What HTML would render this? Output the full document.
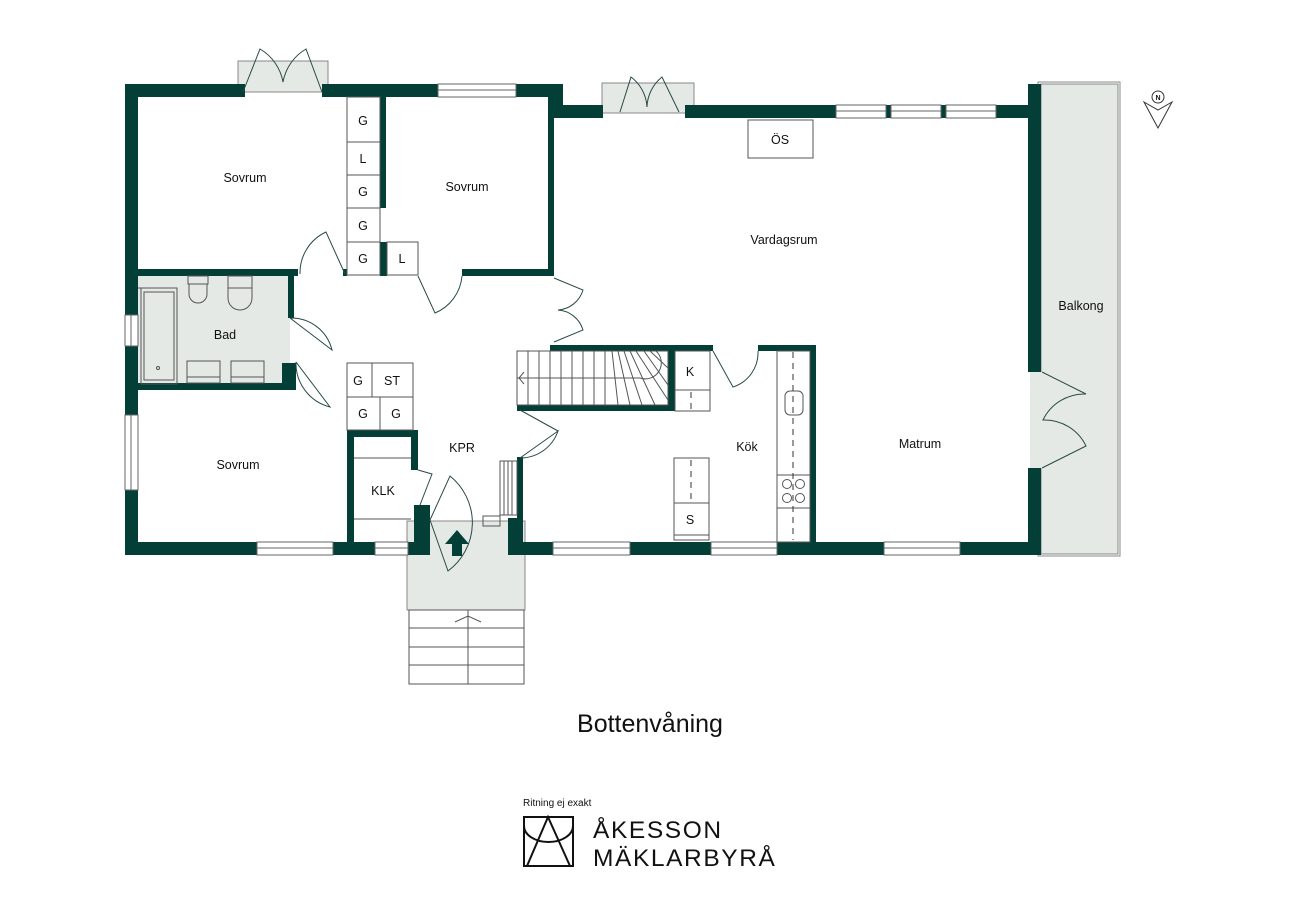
<!DOCTYPE html>
<html><head><meta charset="utf-8"><style>
html,body{margin:0;padding:0;background:#fff;}
svg{display:block;}
text{font-family:"Liberation Sans",Arial,sans-serif;fill:#111;}
</style></head><body>
<svg width="1300" height="919" viewBox="0 0 1300 919" xmlns="http://www.w3.org/2000/svg">
<defs>
<style>.w{fill:#033f37}.t{fill:none;stroke:#555;stroke-width:1}.d{fill:none;stroke:#2a4a45;stroke-width:1}.lf{fill:#e4e9e6}.win{fill:#fff;stroke:#666;stroke-width:1}</style>
</defs>
<!-- light fills -->
<rect class="lf" x="1041" y="84" width="77" height="470" stroke="#888" stroke-width="1"/>
<rect x="1038" y="82" width="82" height="474" fill="none" stroke="#888" stroke-width="1"/>
<rect class="lf" x="238" y="61" width="90" height="31" stroke="#888"/>
<rect class="lf" x="602" y="83" width="92" height="30" stroke="#888"/>
<rect class="lf" x="1030" y="372" width="12" height="96"/>
<rect class="lf" x="138" y="276" width="152" height="108"/>
<rect class="lf" x="407" y="521" width="118" height="89" stroke="#888"/>

<!-- outer walls -->
<rect class="w" x="125" y="84" width="120" height="13"/>
<rect class="w" x="322" y="84" width="116" height="13"/>
<rect class="w" x="516" y="84" width="47" height="13"/>
<rect class="w" x="550" y="84" width="13" height="34"/>
<rect class="w" x="553" y="105" width="50" height="13"/>
<rect class="w" x="685" y="105" width="151" height="13"/>
<rect class="w" x="886" y="105" width="5" height="13"/>
<rect class="w" x="941" y="105" width="5" height="13"/>
<rect class="w" x="996" y="105" width="34" height="13"/>
<rect class="w" x="1028" y="84" width="13" height="288"/>
<rect class="w" x="1028" y="468" width="13" height="87"/>
<rect class="w" x="125" y="84" width="13" height="231"/>
<rect class="w" x="125" y="346" width="13" height="69"/>
<rect class="w" x="125" y="490" width="13" height="65"/>
<rect class="w" x="125" y="542" width="132" height="13"/>
<rect class="w" x="333" y="542" width="42" height="13"/>
<rect class="w" x="408" y="542" width="22" height="13"/>
<rect class="w" x="508" y="542" width="45" height="13"/>
<rect class="w" x="630" y="542" width="81" height="13"/>
<rect class="w" x="777" y="542" width="107" height="13"/>
<rect class="w" x="960" y="542" width="81" height="13"/>
<!-- windows -->
<g class="win">
<rect x="438" y="84" width="78" height="13"/><line x1="438" y1="90" x2="516" y2="90"/>
<rect x="836" y="105" width="50" height="13"/><line x1="836" y1="111" x2="886" y2="111"/>
<rect x="891" y="105" width="50" height="13"/><line x1="891" y1="111" x2="941" y2="111"/>
<rect x="946" y="105" width="50" height="13"/><line x1="946" y1="111" x2="996" y2="111"/>
<rect x="125" y="315" width="13" height="31"/><line x1="131" y1="315" x2="131" y2="346"/>
<rect x="125" y="415" width="13" height="75"/><line x1="131" y1="415" x2="131" y2="490"/>
<rect x="257" y="542" width="76" height="13"/><line x1="257" y1="548" x2="333" y2="548"/>
<rect x="375" y="542" width="33" height="13"/><line x1="375" y1="548" x2="408" y2="548"/>
<rect x="553" y="542" width="77" height="13"/><line x1="553" y1="548" x2="630" y2="548"/>
<rect x="711" y="542" width="66" height="13"/><line x1="711" y1="548" x2="777" y2="548"/>
<rect x="884" y="542" width="76" height="13"/><line x1="884" y1="548" x2="960" y2="548"/>
</g>
<!-- interior walls -->
<rect class="w" x="138" y="269" width="160" height="7"/>
<rect class="w" x="343" y="269" width="4" height="7"/>
<rect class="w" x="380" y="97" width="6" height="111"/>
<rect class="w" x="380" y="242" width="7" height="34"/>
<rect class="w" x="462" y="269" width="91" height="7"/>
<rect class="w" x="548" y="97" width="6" height="179"/>
<rect class="w" x="288" y="276" width="6" height="42"/>
<rect class="w" x="282" y="363" width="14" height="27"/>
<rect class="w" x="138" y="383" width="158" height="7"/>
<rect class="w" x="347" y="430" width="7" height="115"/>
<rect class="w" x="347" y="430" width="71" height="7"/>
<rect class="w" x="411" y="430" width="7" height="40"/>
<rect class="w" x="414" y="505" width="16" height="40"/>
<rect class="w" x="508" y="518" width="14" height="30"/>
<rect class="w" x="517" y="457" width="6" height="98"/>
<rect class="w" x="550" y="345" width="163" height="6"/>
<rect class="w" x="517" y="405" width="158" height="6"/>
<rect class="w" x="668" y="349" width="7" height="62"/>
<rect class="w" x="758" y="345" width="58" height="6"/>
<rect class="w" x="810" y="345" width="6" height="200"/>

<!-- closets -->
<g class="t">
<rect x="347" y="97" width="33" height="178"/>
<line x1="347" y1="142" x2="380" y2="142"/><line x1="347" y1="175" x2="380" y2="175"/>
<line x1="347" y1="208" x2="380" y2="208"/><line x1="347" y1="242" x2="380" y2="242"/>
<rect x="387" y="242" width="31" height="33"/>
<rect x="347" y="363" width="66" height="67"/>
<line x1="347" y1="397" x2="413" y2="397"/><line x1="372" y1="363" x2="372" y2="397"/><line x1="380" y1="397" x2="380" y2="430"/>
<rect x="748" y="120" width="65" height="38"/>
<line x1="354" y1="458" x2="411" y2="458"/><line x1="354" y1="519" x2="411" y2="519"/>
<rect x="675" y="351" width="35" height="60"/><line x1="675" y1="390" x2="710" y2="390"/>
<rect x="674" y="458" width="35" height="82"/><line x1="674" y1="503" x2="709" y2="503"/><line x1="674" y1="535" x2="709" y2="535"/>
<rect x="777" y="351" width="33" height="191"/>
<rect x="777" y="475" width="33" height="33"/>
<rect x="785" y="391" width="18" height="24" rx="5"/>
<circle cx="787" cy="484" r="4.5"/><circle cx="800" cy="484" r="4.5"/><circle cx="787" cy="498" r="4.5"/><circle cx="800" cy="498" r="4.5"/>
<!-- bath -->
<rect x="141" y="288" width="36" height="96"/><rect x="144" y="292" width="30" height="88"/>
<line x1="138" y1="288" x2="177" y2="288"/>
<circle cx="158" cy="368" r="1.5"/>
<rect x="188" y="276" width="20" height="8"/><path d="M189 284 v10 a9 9 0 0 0 18 0 v-10"/>
<rect x="228" y="276" width="24" height="12"/><path d="M228 288 v10 a12 12 0 0 0 24 0 v-10"/>
<rect x="187" y="361" width="33" height="22"/><rect x="231" y="361" width="33" height="22"/>
<line x1="187" y1="377" x2="220" y2="377"/><line x1="231" y1="377" x2="264" y2="377"/>
<!-- stairs -->
<rect x="517" y="351" width="151" height="54"/>
<line x1="517" y1="378" x2="640" y2="378"/>
<line x1="528" y1="351" x2="528" y2="405"/><line x1="539" y1="351" x2="539" y2="405"/>
<line x1="550" y1="351" x2="550" y2="405"/><line x1="561" y1="351" x2="561" y2="405"/>
<line x1="572" y1="351" x2="572" y2="405"/><line x1="583" y1="351" x2="583" y2="405"/>
<line x1="594" y1="351" x2="594" y2="405"/><line x1="605" y1="351" x2="605" y2="405"/>
<line x1="612" y1="351" x2="618" y2="405"/><line x1="618" y1="351" x2="630" y2="405"/>
<line x1="624" y1="351" x2="642" y2="405"/><line x1="630" y1="351" x2="655" y2="405"/>
<line x1="636" y1="351" x2="668" y2="400"/><line x1="644" y1="351" x2="668" y2="385"/>
<line x1="650" y1="351" x2="668" y2="368"/>
<path d="M640 378 a16 16 0 0 0 16 -27"/>
<path d="M524 372 l-5 6 l5 6"/>
<!-- radiator -->
<rect x="500" y="461" width="17" height="54"/>
<line x1="504" y1="461" x2="504" y2="515"/><line x1="508" y1="461" x2="508" y2="515"/><line x1="512" y1="461" x2="512" y2="515"/>
<rect x="483" y="516" width="17" height="10"/>
<!-- outdoor stairs -->
<rect x="409" y="610" width="115" height="74"/>
<line x1="468" y1="610" x2="468" y2="684"/>
<line x1="409" y1="628" x2="524" y2="628"/><line x1="409" y1="647" x2="524" y2="647"/><line x1="409" y1="665" x2="524" y2="665"/>
<path d="M455 622 l13 -6 l13 6"/>
</g>
<g stroke="#333" stroke-width="1" stroke-dasharray="6,5">
<line x1="793" y1="352" x2="793" y2="540"/>
<line x1="691" y1="460" x2="691" y2="500"/>
<line x1="691" y1="392" x2="691" y2="410"/>
</g>
<!-- doors -->
<g class="d">
<path d="M345 274 L326 232 A45 45 0 0 0 300 274"/>
<path d="M418 276 L435 313 A44 44 0 0 0 462 276"/>
<path d="M554 278 L583 290 A28 28 0 0 1 558 310 A28 28 0 0 1 583 330 L554 342"/>
<path d="M290 318 L332 350 A42 42 0 0 0 290 318"/>
<path d="M296 362 L330 407 A45 45 0 0 1 296 362"/>
<path d="M520 458 L558 431 A40 40 0 0 1 520 458"/>
<path d="M520 410 L558 431"/>
<path d="M430 520 L450 476 A60 60 0 0 1 448 571 L430 520"/>
<path d="M418 470 L432 474 L420 505"/>
<path d="M713 351 L733 387 A36 36 0 0 0 758 351"/>
<path d="M243 92 L260 49 A48 48 0 0 1 283 82 A48 48 0 0 1 306 49 L322 92"/>
<path d="M620 112 L631 77 A40 40 0 0 1 647 107 A40 40 0 0 1 662 77 L679 112"/>
<path d="M1042 372 L1086 394 A46 46 0 0 0 1043 420 A46 46 0 0 1 1086 446 L1042 468"/>
</g>
<!-- entry arrow -->
<path d="M457 530 L469 544 L462 544 L462 556 L452 556 L452 544 L445 544 Z" fill="#033f37"/>
<!-- compass -->
<circle cx="1158" cy="97" r="6" fill="none" stroke="#333"/>
<text x="1158" y="100" font-size="7" text-anchor="middle" font-weight="bold">N</text>
<path d="M1144 102 L1158 110 L1172 102 L1158 128 Z" fill="none" stroke="#333"/>
<!-- labels -->
<g font-size="12.5" text-anchor="middle">
<text x="245" y="182">Sovrum</text>
<text x="467" y="191">Sovrum</text>
<text x="225" y="339">Bad</text>
<text x="238" y="469">Sovrum</text>
<text x="462" y="452">KPR</text>
<text x="383" y="495">KLK</text>
<text x="780" y="144">ÖS</text>
<text x="784" y="244">Vardagsrum</text>
<text x="1081" y="310">Balkong</text>
<text x="747" y="451">Kök</text>
<text x="920" y="448">Matrum</text>
<text x="363" y="125">G</text><text x="363" y="163">L</text><text x="363" y="196">G</text>
<text x="363" y="230">G</text><text x="363" y="263">G</text><text x="402" y="263">L</text>
<text x="358" y="385">G</text><text x="392" y="385">ST</text>
<text x="363" y="418">G</text><text x="396" y="418">G</text>
<text x="690" y="376">K</text><text x="690" y="524">S</text>
</g>
<text x="650" y="732" font-size="25" text-anchor="middle">Bottenvåning</text>
<text x="523" y="806" font-size="10">Ritning ej exakt</text>
<!-- logo -->
<g fill="none" stroke="#111" stroke-width="2">
<rect x="524" y="817" width="49" height="49"/>
<path d="M524 826 A24.5 16 0 0 0 573 826"/>
<path d="M527 866 L548 817 L570 866"/>
</g>
<text x="593" y="838" font-size="24.5" letter-spacing="1.6">ÅKESSON</text>
<text x="593" y="866" font-size="24.5" letter-spacing="1.6">MÄKLARBYRÅ</text>
</svg>
</body></html>
